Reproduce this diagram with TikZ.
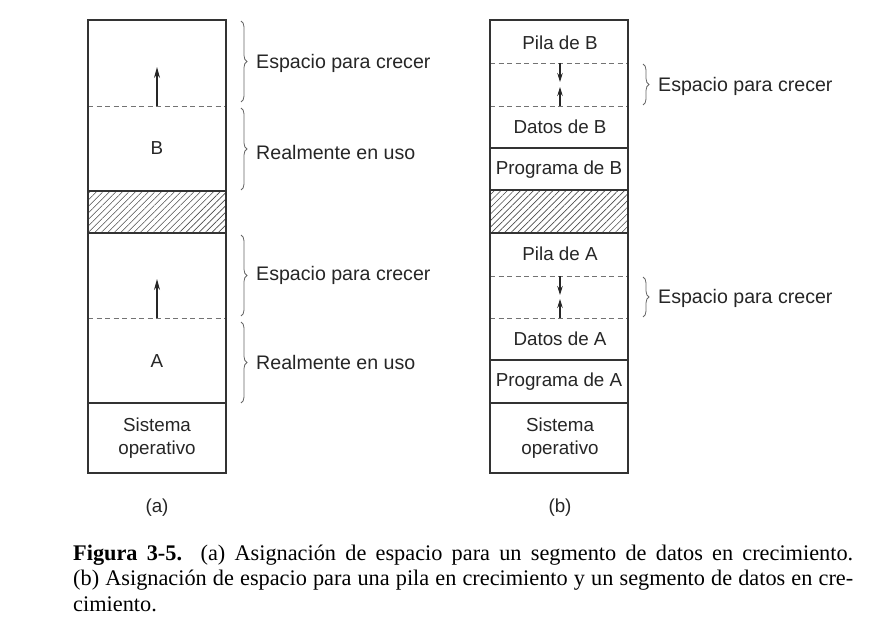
\documentclass[tikz,border=0pt]{standalone}
\usepackage{fontspec}
\setmainfont{Liberation Serif}
\setsansfont{Liberation Sans}
\usetikzlibrary{arrows.meta,patterns.meta,decorations.pathreplacing}
\begin{document}
\begin{tikzpicture}[x=1pt,y=-1pt,
  frame/.style={draw=black!80,line width=1.4pt},
  sep/.style={draw=black!80,line width=1.2pt},
  dsep/.style={draw=black!55,line width=0.9pt,dash pattern=on 5pt off 3.5pt},
  hatch/.style={pattern={Lines[angle=45,distance=4.6pt,line width=0.6pt]},pattern color=black!70},
  lbl/.style={font=\sffamily\fontsize{18.8}{23}\selectfont,text=black!85,inner sep=0pt,align=center},
  side/.style={font=\sffamily\fontsize{19.6}{23}\selectfont,text=black!85,inner sep=0pt,anchor=west},
  growarrow/.style={-{Stealth[length=11pt,width=6pt]},line width=1.3pt,draw=black!85},
  smallgrowarrow/.style={-{Stealth[length=9pt,width=5.5pt]},line width=1.1pt,draw=black!85},
  brc/.style={draw=black!60,line width=0.8pt,decorate,decoration={brace,amplitude=6pt}},
  capf/.style={font=\fontsize{22.3}{25}\selectfont,inner sep=0pt,anchor=base west}]
\useasboundingbox (0,0) rectangle (890,620);
% ---------- column (a) ----------
\path[hatch] (88,191) rectangle (226,233);
\draw[dsep] (88,106) -- (226,106);
\draw[dsep] (88,318) -- (226,318);
\draw[sep] (88,191) -- (226,191);
\draw[sep] (88,233) -- (226,233);
\draw[sep] (88,403) -- (226,403);
\draw[frame] (88,20) rectangle (226,473);
\coordinate (aB1) at (157,106); \coordinate (aB2) at (157,67);
\coordinate (aA1) at (157,318); \coordinate (aA2) at (157,279);
\draw[growarrow] (aB1) -- (aB2);
\draw[growarrow] (aA1) -- (aA2);
\node[lbl] (aB) at (157,148) {B};
\node[lbl] (aA) at (157,361) {A};
\node[lbl] (aSO) at (157,438) {Sistema\\operativo};
\coordinate (ab1t) at (241,21);  \coordinate (ab1b) at (241,102);
\coordinate (ab2t) at (241,108); \coordinate (ab2b) at (241,190);
\coordinate (ab3t) at (241,235); \coordinate (ab3b) at (241,316);
\coordinate (ab4t) at (241,322); \coordinate (ab4b) at (241,403);
\draw[brc] (ab1t) -- (ab1b);
\draw[brc] (ab2t) -- (ab2b);
\draw[brc] (ab3t) -- (ab3b);
\draw[brc] (ab4t) -- (ab4b);
\node[side] (ae1) at (256,63) {Espacio para crecer};
\node[side] (ar1) at (256,152) {Realmente en uso};
\node[side] (ae2) at (256,275) {Espacio para crecer};
\node[side] (ar2) at (256,362) {Realmente en uso};
\node[lbl] (capa) at (157,508) {(a)};
% ---------- column (b) ----------
\path[hatch] (490,190) rectangle (628,233);
\draw[dsep] (490,63) -- (628,63);
\draw[dsep] (490,106) -- (628,106);
\draw[dsep] (490,276) -- (628,276);
\draw[dsep] (490,318) -- (628,318);
\draw[sep] (490,148) -- (628,148);
\draw[sep] (490,190) -- (628,190);
\draw[sep] (490,233) -- (628,233);
\draw[sep] (490,360) -- (628,360);
\draw[sep] (490,403) -- (628,403);
\draw[frame] (490,20) rectangle (628,473);
\coordinate (bd1) at (560,63);  \coordinate (bd2) at (560,82);
\coordinate (bu1) at (560,106); \coordinate (bu2) at (560,87);
\coordinate (cd1) at (560,276); \coordinate (cd2) at (560,295);
\coordinate (cu1) at (560,318); \coordinate (cu2) at (560,299);
\draw[smallgrowarrow] (bd1) -- (bd2);
\draw[smallgrowarrow] (bu1) -- (bu2);
\draw[smallgrowarrow] (cd1) -- (cd2);
\draw[smallgrowarrow] (cu1) -- (cu2);
\node[lbl] (pB) at (560,43) {Pila de B};
\node[lbl] (dB) at (560,127) {Datos de B};
\node[lbl] (gB) at (559,170) {Programa de B};
\node[lbl] (pA) at (560,254) {Pila de A};
\node[lbl] (dA) at (560,339) {Datos de A};
\node[lbl] (gA) at (559,382) {Programa de A};
\node[lbl] (bSO) at (560,438) {Sistema\\operativo};
\coordinate (bb1t) at (643,64);  \coordinate (bb1b) at (643,105);
\coordinate (bb2t) at (643,277); \coordinate (bb2b) at (643,317);
\draw[brc] (bb1t) -- (bb1b);
\draw[brc] (bb2t) -- (bb2b);
\node[side] (be1) at (658,86) {Espacio para crecer};
\node[side] (be2) at (658,298) {Espacio para crecer};
\node[lbl] (capb) at (560,508) {(b)};
% ---------- caption ----------
\node[capf] (cap1) at (73,560) {\makebox[780pt][s]{\textbf{Figura 3-5.}\ \ (a) Asignación de espacio para un segmento de datos en crecimiento.}};
\node[capf] (cap2) at (73,585) {\makebox[780pt][s]{(b) Asignación de espacio para una pila en crecimiento y un segmento de datos en cre-}};
\node[capf] (cap3) at (73,611) {cimiento.};
\end{tikzpicture}
\end{document}
